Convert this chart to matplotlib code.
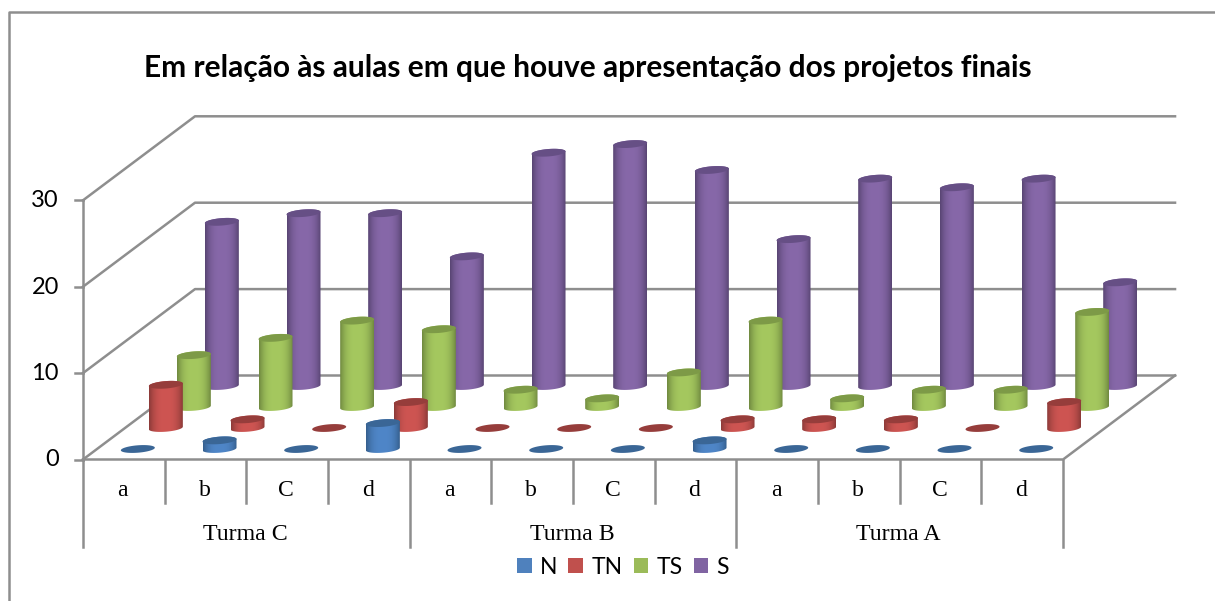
import numpy as np
import matplotlib
matplotlib.use('Agg')
import matplotlib.pyplot as plt
from matplotlib.patches import Polygon, Patch

# dados
turmas = ['Turma C', 'Turma B', 'Turma A']
categorias = ['a', 'b', 'C', 'd', 'a', 'b', 'C', 'd', 'a', 'b', 'C', 'd']
series = ['N', 'TN', 'TS', 'S']
val_n = [0, 1, 0, 3, 0, 0, 0, 1, 0, 0, 0, 0]
val_tn = [5, 1, 0, 3, 0, 0, 0, 1, 1, 1, 0, 3]
val_ts = [6, 8, 10, 9, 2, 1, 4, 10, 1, 2, 2, 11]
val_s = [19, 20, 20, 15, 27, 28, 25, 17, 24, 23, 24, 12]
ticks_y = [0, 10, 20, 30]

# cores: legenda, centro do cilindro, borda, tampa
cor_legenda = ['#4F81BD', '#C0504D', '#9BBB59', '#8064A2']
cor_centro = ['#4F86C8', '#CE5552', '#A5C85F', '#8768A9']
cor_borda = ['#36608F', '#8E3B39', '#728C41', '#5A4675']
cor_tampa = ['#3A6696', '#963D3B', '#7D9A47', '#664F85']
cinza = '#8E8E8E'
lw_linha = 1.8

# geometria da projecao obliqua, em pixels da figura
x0, y0 = 83.0, 459.5
passo_x = 81.67
passo_y = 8.64
prof_x, prof_y = 112.0, -84.0
raio, semi_h, incl = 17.0, 3.7, 1.3


def proj(cat, prof, valor):
    return x0 + cat * passo_x + prof * prof_x, y0 + prof_y * prof - valor * passo_y


def elipse(cx, cy, t):
    return cx + raio * np.cos(t), cy + semi_h * np.sin(t) - incl * np.cos(t)


def rgb(c):
    return np.array(matplotlib.colors.to_rgb(c))


def cilindro(ax, cat, idx, valor):
    prof = (idx + 0.5) / len(series)
    cx, base = proj(cat + 0.5, prof, 0)
    topo = base - valor * passo_y
    z = 3 + (len(series) - idx) * 0.1 + cat * 0.001
    if valor > 0:
        t = np.linspace(0, np.pi, 40)
        xb, yb = elipse(cx, base, t)
        xt, yt = elipse(cx, topo, t + np.pi)
        pts = np.column_stack([np.r_[xb, xt], np.r_[yb, yt]])
        # gradiente horizontal do corpo
        u = np.abs(np.linspace(-1, 1, 34)) ** 2.8
        cores = np.array([rgb(cor_centro[idx]) * (1 - k) + rgb(cor_borda[idx]) * k for k in u])
        im = ax.imshow(cores[np.newaxis, :, :], extent=(cx - raio, cx + raio, base + 8, topo - 8),
                       aspect='auto', interpolation='bilinear', zorder=z)
        clip = Polygon(pts, closed=True, transform=ax.transData, fc='none', ec='none')
        ax.add_patch(clip)
        im.set_clip_path(clip)
    t = np.linspace(0, 2 * np.pi, 60)
    xe, ye = elipse(cx, topo, t)
    ax.add_patch(Polygon(np.column_stack([xe, ye]), closed=True, fc=cor_tampa[idx], ec='none', zorder=z + 0.01))


fig = plt.figure(figsize=(12.15, 6.01), dpi=100)
ax = fig.add_axes([0, 0, 1, 1])
ax.set_xlim(0, 1215)
ax.set_ylim(601, 0)
ax.axis('off')
ax.autoscale(False)

# moldura do grafico (cortada na direita e embaixo)
ax.plot([9, 9, 1215], [601, 12, 12], color=cinza, lw=lw_linha, zorder=1)

n = len(categorias)

# paredes e grades
for v in ticks_y:
    xa, ya = proj(0, 0, v)
    xb, yb = proj(0, 1, v)
    xc, yc = proj(n, 1, v)
    ax.plot([xa, xb, xc], [ya, yb, yc], color=cinza, lw=lw_linha, zorder=1)
    ax.plot([xa - 8, xa], [ya, ya], color=cinza, lw=lw_linha, zorder=1)
    ax.text(xa - 24, ya + 0.5, str(v), ha='right', va='center', fontsize=17, family='Lato', color='black')

# eixo vertical e piso
xa, ya = proj(0, 0, ticks_y[-1])
ax.plot([xa, xa], [ya, y0], color=cinza, lw=lw_linha, zorder=1)
xb, yb = proj(n, 0, 0)
xc, yc = proj(n, 1, 0)
ax.plot([x0, xb, xc], [y0, yb, yc], color=cinza, lw=lw_linha, zorder=2)

# separadores e rotulos de categoria
for i in range(n + 1):
    xi = proj(i, 0, 0)[0]
    fim = 547 if i % 4 == 0 else 503
    ax.plot([xi, xi], [y0, fim], color=cinza, lw=lw_linha, zorder=1)
for i, c in enumerate(categorias):
    ax.text(proj(i + 0.5, 0, 0)[0] - 1, 496, c, ha='center', va='baseline', fontsize=17,
            family='Liberation Serif', color='black')
for i, t_ in enumerate(turmas):
    ax.text(proj(4 * i + 2, 0, 0)[0] - 1, 540, t_, ha='center', va='baseline', fontsize=17.2,
            family='Liberation Serif', color='black')

# cilindros, de tras para frente
valores = [val_n, val_tn, val_ts, val_s]
for idx in range(len(series) - 1, -1, -1):
    for cat in range(n):
        cilindro(ax, cat, idx, valores[idx][cat])

ax.text(588, 68, 'Em relação às aulas em que houve apresentação dos projetos finais',
        ha='center', va='center', fontsize=21.5, fontweight='bold', family='Lato', color='black')

alcas = [Patch(fc=c, ec='none', label=s) for c, s in zip(cor_legenda, series)]
ax.legend(handles=alcas, ncol=4, loc='center', bbox_to_anchor=(623 / 1215, 1 - 567 / 601), frameon=False,
          prop={'family': 'Lato', 'size': 16.5}, handlelength=0.65, handleheight=0.65,
          handletextpad=0.35, columnspacing=0.48, borderpad=0)

fig.savefig('out.png', dpi=100)
